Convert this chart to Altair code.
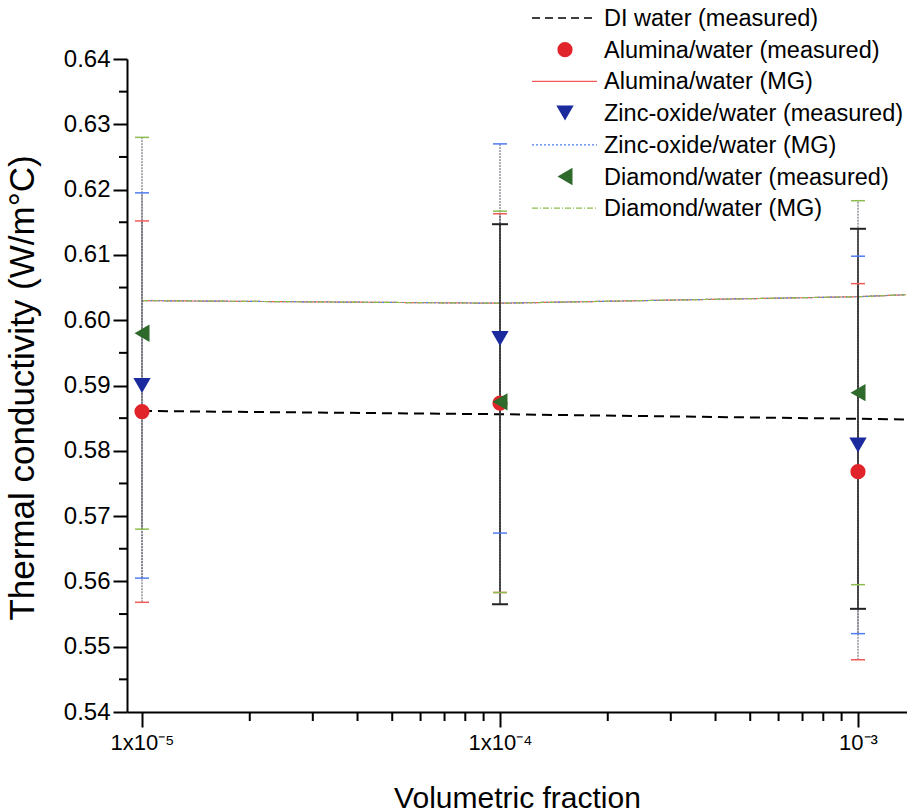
import altair as alt
import pandas as pd

# ---------------- data ----------------
x_meas = [1e-5, 1e-4, 1e-3]
alumina = [0.5860, 0.5873, 0.5768]
alumina_err = [0.0292, 0.0290, 0.0288]
zinc = [0.5900, 0.5972, 0.5809]
zinc_err = [0.0295, 0.0298, 0.0289]
diamond = [0.5980, 0.5875, 0.5889]
diamond_err = [0.0300, 0.0292, 0.0294]

di_err_x = [1e-4, 1e-3]
di_err_y = [0.5856, 0.5849]
di_err = [0.0291, 0.0291]

line_x = [1e-5, 1e-4, 1e-3, 1.36e-3]
di_line = [0.5861, 0.5856, 0.5849, 0.5848]
mg_alumina = [0.6030, 0.6026, 0.6036, 0.6039]
mg_zinc = [0.6030, 0.6026, 0.6036, 0.6039]
mg_diamond = [0.6030, 0.6026, 0.6036, 0.6039]

y_major = [0.54, 0.55, 0.56, 0.57, 0.58, 0.59, 0.60, 0.61, 0.62, 0.63, 0.64]
y_minor = [0.545, 0.555, 0.565, 0.575, 0.585, 0.595, 0.605, 0.615, 0.625, 0.635]
x_major = [1e-5, 1e-4, 1e-3]
x_major_labels = ["1x10\u207b\u2075", "1x10\u207b\u2074", "10\u207b\u00b3"]
x_minor = [2e-5, 3e-5, 4e-5, 5e-5, 6e-5, 7e-5, 8e-5, 9e-5,
           2e-4, 3e-4, 4e-4, 5e-4, 6e-4, 7e-4, 8e-4, 9e-4]

legend_labels = ["DI water (measured)", "Alumina/water (measured)", "Alumina/water (MG)",
                 "Zinc-oxide/water (measured)", "Zinc-oxide/water (MG)",
                 "Diamond/water (measured)", "Diamond/water (MG)"]

# ---------------- styling ----------------
W, H = 780, 653
PAD_L, PAD_T = 127, 59
FONT = "Liberation Sans"
RED, RED_L = "#e0242a", "#f25a5a"
BLUE, BLUE_L = "#1b2b9e", "#4f7cf0"
GREEN, GREEN_L = "#2e6a2b", "#8cbd4e"

xscale = alt.Scale(type="log", domain=[10 ** -5.0419, 10 ** -2.8631], nice=False)
yscale = alt.Scale(domain=[0.54, 0.64], nice=False, zero=False)

label_expr = " : ".join(
    f"abs(log(datum.value)/log(10) - ({v_exp})) < 0.01 ? '{lab}'"
    for v_exp, lab in zip([-5, -4, -3], x_major_labels)
) + " : ''"

X = alt.X("x:Q", scale=xscale,
          axis=alt.Axis(values=x_major, labelExpr=label_expr, title="Volumetric fraction",
                        tickSize=15, labelFontSize=22, labelPadding=5,
                        titleFontSize=30, titleFontWeight="normal",
                        titleX=W / 2, titleY=86, titleBaseline="middle", titleAnchor="middle"))
Y = alt.Y("y:Q", scale=yscale,
          axis=alt.Axis(values=y_major, format=".2f", title="Thermal conductivity (W/m\u00b0C)",
                        tickSize=14, labelFontSize=24, labelPadding=3,
                        titleFontSize=35, titleFontWeight="normal",
                        titleX=-105, titleY=H / 2 + 2, titleAngle=-90, titleBaseline="middle",
                        titleAnchor="middle", titleAlign="center"))
Xn = alt.X("x:Q", scale=xscale)
Yn = alt.Y("y:Q", scale=yscale)

layers = []

# DI water line
df_di = pd.DataFrame({"x": line_x, "y": di_line})
layers.append(alt.Chart(df_di).mark_line(color="black", strokeWidth=2, strokeDash=[10, 6]).encode(x=X, y=Y))

# MG model lines
for vals, col, dash in [(mg_alumina, RED_L, [1, 0]), (mg_zinc, BLUE_L, [2, 2]),
                        (mg_diamond, GREEN_L, [6, 2, 1, 2])]:
    df = pd.DataFrame({"x": line_x, "y": vals})
    layers.append(alt.Chart(df).mark_line(color=col, strokeWidth=1.2, strokeDash=dash).encode(x=Xn, y=Yn))

# error bars
def err_df(xs, ys, es):
    return pd.DataFrame({"x": xs, "lo": [a - b for a, b in zip(ys, es)],
                         "hi": [a + b for a, b in zip(ys, es)]})

err_sets = [
    (err_df(x_meas, alumina, alumina_err), RED_L, "#5a5a66", 1.0, [2, 1]),
    (err_df(x_meas, zinc, zinc_err), BLUE_L, "#5a5a66", 1.0, [2, 1]),
    (err_df(x_meas, diamond, diamond_err), GREEN_L, "#5a5a66", 1.0, [2, 1]),
    (err_df(di_err_x, di_err_y, di_err), "#222222", "#222222", 1.4, [1, 0]),
]
for df, capcol, linecol, lw, dash in err_sets:
    layers.append(alt.Chart(df).mark_rule(color=linecol, strokeWidth=lw, strokeDash=dash).encode(
        x=Xn, y=alt.Y("lo:Q", scale=yscale), y2="hi:Q"))
for df, capcol, linecol, lw, dash in err_sets:
    for f in ["lo", "hi"]:
        layers.append(alt.Chart(df).mark_tick(orient="horizontal", size=14 if capcol != "#222222" else 16,
                                              thickness=1.5 if capcol != "#222222" else 2.0,
                                              color=capcol, opacity=1).encode(
            x=Xn, y=alt.Y(f"{f}:Q", scale=yscale)))

# measured points
for vals, col, shape, size in [(alumina, RED, "circle", 230), (zinc, BLUE, "triangle-down", 300),
                               (diamond, GREEN, "triangle-left", 300)]:
    df = pd.DataFrame({"x": x_meas, "y": vals})
    layers.append(alt.Chart(df).mark_point(shape=shape, filled=True, size=size, color=col,
                                           opacity=1, strokeWidth=0).encode(x=Xn, y=Yn))

# minor ticks
layers.append(alt.Chart(pd.DataFrame({"y": y_minor})).mark_rule(color="black", strokeWidth=2).encode(
    y=Yn, x=alt.value(-8), x2=alt.value(0)))
layers.append(alt.Chart(pd.DataFrame({"x": x_minor})).mark_rule(color="black", strokeWidth=2).encode(
    x=Xn, y=alt.value(H), y2=alt.value(H + 9)))

# manual legend
one = pd.DataFrame({"a": [0]})
row0, dy = 18 - PAD_T, 31.7
lx0, lx1, lmark, ltext = 405, 470, 438, 477
styles = [
    ("line", "black", [8, 5], 1.6, None),
    ("point", RED, None, None, "circle"),
    ("line", RED_L, [1, 0], 1.2, None),
    ("point", BLUE, None, None, "triangle-down"),
    ("line", BLUE_L, [2, 2], 1.2, None),
    ("point", GREEN, None, None, "triangle-left"),
    ("line", GREEN_L, [6, 2, 1, 2], 1.2, None),
]
for i, (lab, st) in enumerate(zip(legend_labels, styles)):
    yy = row0 + i * dy
    kind, col, dash, lw, shape = st
    if kind == "line":
        layers.append(alt.Chart(one).mark_rule(color=col, strokeDash=dash, strokeWidth=lw).encode(
            x=alt.value(lx0), x2=alt.value(lx1), y=alt.value(yy)))
    else:
        layers.append(alt.Chart(one).mark_point(shape=shape, filled=True, size=230 if shape == "circle" else 300,
                                                color=col, opacity=1, strokeWidth=0).encode(
            x=alt.value(lmark), y=alt.value(yy)))
    layers.append(alt.Chart(one).mark_text(text=lab, align="left", baseline="middle", font=FONT,
                                           fontSize=23.5, color="black").encode(
        x=alt.value(ltext), y=alt.value(yy + 1)))

chart = alt.layer(*layers).properties(
    width=W, height=H,
    background="white",
    autosize=alt.AutoSizeParams(type="none"),
    padding={"left": PAD_L, "top": PAD_T, "right": 0, "bottom": 812 - PAD_T - H},
).configure_view(stroke=None).configure_axis(
    grid=False, domainColor="black", domainWidth=2, tickColor="black", tickWidth=2,
    labelColor="black", titleColor="black", labelFont=FONT, titleFont=FONT,
)

chart.save("out.html", embed_options={"renderer": "svg", "actions": False})
